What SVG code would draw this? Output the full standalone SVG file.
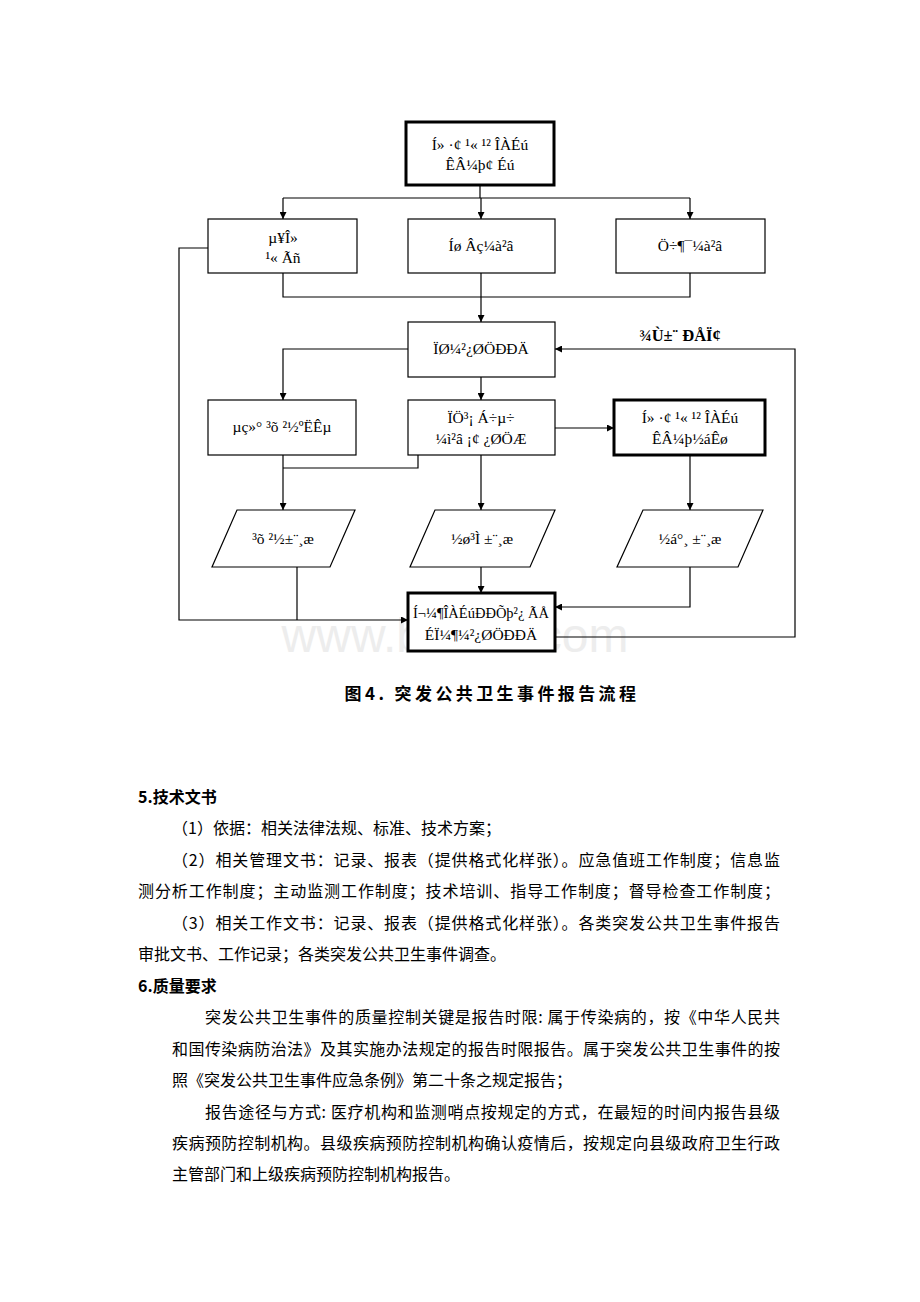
<svg xmlns="http://www.w3.org/2000/svg" width="920" height="1302" viewBox="0 0 920 1302">
<defs>
<marker id="ah" viewBox="0 0 10 10" refX="10" refY="5" markerWidth="7" markerHeight="7" markerUnits="userSpaceOnUse" orient="auto"><path d="M0,0 L10,5 L0,10 z" fill="#000"/></marker>
<style>
.box{fill:#fff;stroke:#000;stroke-width:1.2}
.thick{fill:#fff;stroke:#000;stroke-width:3}
.ln{fill:none;stroke:#000;stroke-width:1.2}
.ar{fill:none;stroke:#000;stroke-width:1.2;marker-end:url(#ah)}
.mt{font-family:"Liberation Serif",serif;font-size:15.5px;text-anchor:middle;fill:#000}
.body{font-family:"Noto Sans CJK SC",sans-serif;font-size:16px;fill:#000}
.bold{font-weight:bold}
.cap{font-family:"Noto Sans CJK SC",sans-serif;font-size:17px;font-weight:bold;letter-spacing:3.4px;text-anchor:middle;fill:#000}
.wm{font-family:"Liberation Sans",sans-serif;font-size:48px;fill:#ededed;text-anchor:middle}
</style>
</defs>
<rect width="920" height="1302" fill="#fff"/>
<text class="wm" x="455" y="652">www.bdocx.com</text>
<g id="connectors">
<path class="ln" d="M480,185 V198 M283,198 H690"/>
<path class="ar" d="M283,198 V219"/>
<path class="ar" d="M481,198 V219"/>
<path class="ar" d="M690,198 V219"/>
<path class="ln" d="M283,273 V297 H690 V273"/>
<path class="ar" d="M481,273 V322"/>
<path class="ar" d="M408,349 H283 V400"/>
<path class="ar" d="M481,377 V400"/>
<path class="ar" d="M555,428 H614"/>
<path class="ar" d="M283,455 V510"/>
<path class="ln" d="M418,455 V468 H283"/>
<path class="ar" d="M481,455 V510"/>
<path class="ar" d="M690,455 V510"/>
<path class="ar" d="M208,248 H179 V620 H408"/>
<path class="ln" d="M297,567 V620"/>
<path class="ar" d="M481,567 V593"/>
<path class="ar" d="M690,567 V607 H555"/>
<path class="ar" d="M555,637 H795 V349 H555"/>
</g>
<g id="n_start"><rect class="thick" x="406" y="122" width="148" height="63"/><text class="mt" x="480" y="150">Í» ·¢ ¹« ¹² ÎÀÉú</text><text class="mt" x="480" y="170">ÊÂ¼þ¢ Éú</text></g>
<g id="n_unit"><rect class="box" x="208" y="219" width="149" height="54"/><text class="mt" x="283" y="243">µ¥Î»</text><text class="mt" x="283" y="263">¹« Ãñ</text></g>
<g id="n_net"><rect class="box" x="408" y="219" width="147" height="54"/><text class="mt" x="481" y="251">Íø Âç¼à²â</text></g>
<g id="n_active"><rect class="box" x="616" y="219" width="149" height="54"/><text class="mt" x="690" y="251">Ö÷¶¯¼à²â</text></g>
<g id="n_cdc"><rect class="box" x="408" y="322" width="147" height="55"/><text class="mt" x="481" y="354">ÏØ¼²¿ØÖÐÐÄ</text></g>
<g id="l_report"><text class="mt" x="680" y="341" style="font-weight:bold;font-size:16.5px">¾Ù±¨ ÐÅÏ¢</text></g>
<g id="n_phone"><rect class="box" x="208" y="400" width="148" height="55"/><text class="mt" x="282" y="432">µç»° ³õ ²½ºËÊµ</text></g>
<g id="n_field"><rect class="box" x="408" y="400" width="147" height="55"/><text class="mt" x="481" y="423">ÏÖ³¡ Á÷µ÷</text><text class="mt" x="481" y="444">¼ì²â ¡¢ ¿ØÖÆ</text></g>
<g id="n_end"><rect class="thick" x="614" y="400" width="151" height="55"/><text class="mt" x="690" y="423">Í» ·¢ ¹« ¹² ÎÀÉú</text><text class="mt" x="690" y="444">ÊÂ¼þ½áÊø</text></g>
<g id="p_first"><polygon class="box" points="237,510 355,510 330,567 212,567"/><text class="mt" x="283" y="544">³õ ²½±¨¸æ</text></g>
<g id="p_prog"><polygon class="box" points="435,510 555,510 530,567 410,567"/><text class="mt" x="482" y="544">½ø³Ì ±¨¸æ</text></g>
<g id="p_close"><polygon class="box" points="643,510 763,510 738,567 617,567"/><text class="mt" x="690" y="544">½á°¸ ±¨¸æ</text></g>
<g id="n_gov"><rect class="thick" x="408" y="593" width="147" height="58"/><text class="mt" x="481" y="618" textLength="136" lengthAdjust="spacingAndGlyphs">Í¬¼¶ÎÀÉúÐÐÕþ²¿ ÃÅ</text><text class="mt" x="481" y="640">ÉÏ¼¶¼²¿ØÖÐÐÄ</text></g>
<text class="cap" x="492" y="700">图4.  突发公共卫生事件报告流程</text>
<g id="body">
<text class="body bold" x="138" y="803">5.技术文书</text>
<text class="body" x="172" y="834">（1）依据：相关法律法规、标准、技术方案；</text>
<text class="body" x="172" y="866" textLength="608" lengthAdjust="spacing">（2）相关管理文书：记录、报表（提供格式化样张）。应急值班工作制度；信息监</text>
<text class="body" x="138" y="897" textLength="642" lengthAdjust="spacing">测分析工作制度；主动监测工作制度；技术培训、指导工作制度；督导检查工作制度；</text>
<text class="body" x="172" y="929" textLength="608" lengthAdjust="spacing">（3）相关工作文书：记录、报表（提供格式化样张）。各类突发公共卫生事件报告</text>
<text class="body" x="138" y="960">审批文书、工作记录；各类突发公共卫生事件调查。</text>
<text class="body bold" x="138" y="992">6.质量要求</text>
<text class="body" x="205" y="1023" textLength="575" lengthAdjust="spacing">突发公共卫生事件的质量控制关键是报告时限: 属于传染病的，按《中华人民共</text>
<text class="body" x="172" y="1055" textLength="608" lengthAdjust="spacing">和国传染病防治法》及其实施办法规定的报告时限报告。属于突发公共卫生事件的按</text>
<text class="body" x="172" y="1086">照《突发公共卫生事件应急条例》第二十条之规定报告；</text>
<text class="body" x="205" y="1118" textLength="575" lengthAdjust="spacing">报告途径与方式: 医疗机构和监测哨点按规定的方式，在最短的时间内报告县级</text>
<text class="body" x="172" y="1149" textLength="608" lengthAdjust="spacing">疾病预防控制机构。县级疾病预防控制机构确认疫情后，按规定向县级政府卫生行政</text>
<text class="body" x="172" y="1180">主管部门和上级疾病预防控制机构报告。</text>
</g>
</svg>
